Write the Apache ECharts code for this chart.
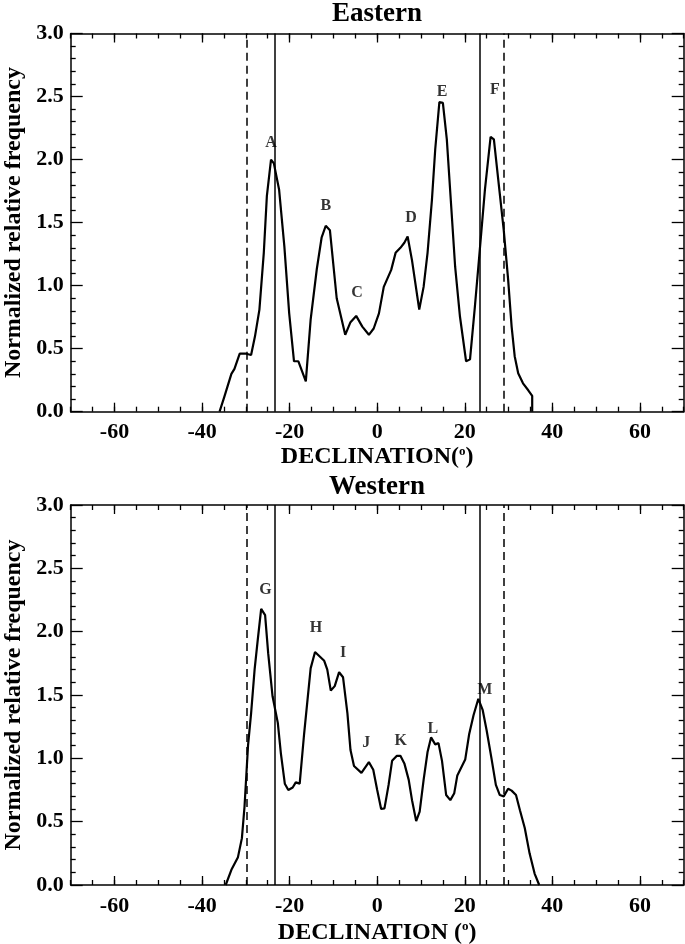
<!DOCTYPE html>
<html><head><meta charset="utf-8">
<script src="https://cdn.jsdelivr.net/npm/echarts@6/dist/echarts.min.js"></script>
<style>html,body{margin:0;padding:0;background:#fff}#c{width:685px;height:944px}</style>
</head><body><div id="c"></div>
<script>
// ---- data ----
const eastX = [-36.0,-34.9,-33.3,-32.6,-31.4,-29.9,-28.8,-27.9,-26.9,-25.9,-25.2,-24.25,-23.6,-22.4,-21.2,-20.1,-19.0,-18.0,-16.3,-15.2,-13.8,-12.7,-11.75,-10.8,-9.25,-7.3,-6.1,-4.8,-3.4,-1.9,-0.8,0.4,1.5,3.2,4.2,5.3,6.2,6.95,7.95,9.6,10.6,11.5,12.5,13.25,14.2,15.0,15.9,16.9,17.8,18.9,20.3,21.2,22.3,23.3,24.6,25.9,26.65,27.9,28.9,29.9,30.7,31.4,32.2,33.3,34.5,35.4,35.4];
const eastY = [0.00,0.12,0.30,0.34,0.46,0.46,0.45,0.60,0.81,1.26,1.71,2.00,1.97,1.76,1.31,0.78,0.40,0.40,0.24,0.73,1.13,1.38,1.475,1.44,0.90,0.61,0.71,0.76,0.675,0.61,0.66,0.78,0.99,1.125,1.26,1.30,1.34,1.39,1.20,0.81,0.99,1.26,1.68,2.08,2.455,2.45,2.16,1.63,1.15,0.755,0.40,0.415,0.83,1.23,1.76,2.18,2.16,1.76,1.44,1.05,0.675,0.44,0.305,0.225,0.17,0.125,0.00];
const westX = [-34.6,-33.3,-31.8,-30.9,-30.3,-29.5,-28.8,-28.0,-27.3,-26.5,-25.6,-24.9,-23.9,-22.7,-22.0,-21.1,-20.3,-19.3,-18.6,-17.7,-16.7,-15.2,-14.2,-12.1,-11.4,-10.6,-9.7,-8.7,-7.8,-6.8,-6.1,-5.3,-3.6,-1.9,-0.9,0.0,0.9,1.66,2.6,3.4,4.5,5.3,6.2,7.2,7.95,8.9,9.7,10.6,11.5,12.3,13.25,14.0,14.8,15.75,16.7,17.6,18.3,20.1,21.0,22.0,23.1,24.1,25.0,26.1,27.1,28.0,28.9,29.9,30.7,31.7,32.6,33.7,34.8,35.95,37.0];
const westY = [0.00,0.12,0.22,0.37,0.62,1.10,1.355,1.70,1.93,2.18,2.13,1.83,1.49,1.28,1.04,0.80,0.75,0.77,0.81,0.80,1.19,1.71,1.84,1.77,1.70,1.535,1.57,1.68,1.64,1.355,1.065,0.94,0.885,0.97,0.91,0.75,0.60,0.605,0.79,0.98,1.02,1.02,0.96,0.83,0.67,0.505,0.58,0.83,1.05,1.165,1.11,1.12,0.98,0.71,0.67,0.725,0.865,0.99,1.19,1.34,1.47,1.38,1.22,1.00,0.79,0.71,0.70,0.76,0.745,0.71,0.59,0.45,0.25,0.09,0.00];
const eastPeakNames = ['A','B','C','D','E','F'];
const eastPeakX = [-24.25,-11.75,-4.6,7.7,14.8,26.9];
const eastPeakY = [2.13,1.63,0.94,1.54,2.54,2.555];
const westPeakNames = ['G','H','I','J','K','L','M'];
const westPeakX = [-25.5,-14.0,-7.8,-2.5,5.4,12.7,24.6];
const westPeakY = [2.33,2.03,1.83,1.12,1.14,1.23,1.54];
const solidDecl = [-23.4, 23.4];
const dashedDecl = [-29.8, 28.8];
const xMajorTicks = [-60,-40,-20,0,20,40,60];
const panelTitles = ['Eastern','Western'];
const xNames = ['DECLINATION({s|o})','DECLINATION ({s|o})'];
const yName = 'Normalized relative frequency';

// ---- chart ----
const FF = '"Liberation Serif", "Times New Roman", serif';
const BLK = '#000';
const grids = [
  {left:70.7, top:33.5, width:613, height:378.2},
  {left:70.7, top:505, width:613, height:380}
];
const nameGaps = [33, 35];
const xAxes = [], yAxes = [], series = [];
grids.forEach((g, i) => {
  const lineSt = {color:BLK, width:1.5};
  const tickSt = {color:BLK, width:1.3};
  ['bottom','top'].forEach(pos => {
    xAxes.push({gridIndex:i, type:'value', position:pos, min:-70, max:70, interval:5,
      axisLine:{show:true, onZero:false, lineStyle:lineSt},
      axisTick:{show:true, inside:true, length:5, lineStyle:tickSt},
      axisLabel:{show:false}, splitLine:{show:false}});
    const major = {gridIndex:i, type:'value', position:pos, min:-70, max:70,
      axisLine:{show:false, onZero:false},
      axisTick:{show:true, inside:true, length:9, customValues:xMajorTicks, lineStyle:tickSt},
      splitLine:{show:false}};
    if (pos === 'bottom') {
      major.axisLabel = {show:true, customValues:xMajorTicks, margin:10, color:BLK,
        fontFamily:FF, fontWeight:'bold', fontSize:22};
      major.name = xNames[i];
      major.nameLocation = 'middle';
      major.nameGap = nameGaps[i];
      major.nameTextStyle = {color:BLK, fontFamily:FF, fontWeight:'bold', fontSize:24,
        rich:{s:{fontFamily:FF, fontWeight:'bold', fontSize:13, color:BLK, padding:[0,0,12,0]}}};
    } else {
      major.axisLabel = {show:false};
    }
    xAxes.push(major);
  });
  ['left','right'].forEach(pos => {
    yAxes.push({gridIndex:i, type:'value', position:pos, min:0, max:3, interval:0.5,
      axisLine:{show:true, onZero:false, lineStyle:lineSt},
      axisTick:{show:true, inside:true, length:12, lineStyle:tickSt},
      minorTick:{show:true, splitNumber:5, length:5, lineStyle:tickSt},
      splitLine:{show:false}, minorSplitLine:{show:false},
      axisLabel: pos === 'left' ? {show:true, margin:7, color:BLK, fontFamily:FF, fontWeight:'bold', fontSize:22,
        formatter: v => v.toFixed(1)} : {show:false},
      name: pos === 'left' ? yName : '',
      nameLocation:'middle', nameGap:37, nameRotate:90,
      nameTextStyle:{color:BLK, fontFamily:FF, fontWeight:'bold', fontSize:24}});
  });
  const xs = i === 0 ? eastX : westX, ys = i === 0 ? eastY : westY;
  const mlData = solidDecl.map(v => ({xAxis:v, lineStyle:{type:'solid', color:BLK, width:1.5}}))
    .concat(dashedDecl.map(v => ({xAxis:v, lineStyle:{type:[8,5], color:BLK, width:1.5}})));
  series.push({type:'line', xAxisIndex:i*4, yAxisIndex:i*2, showSymbol:false, symbol:'none',
    data: xs.map((x, k) => [x, ys[k]]),
    lineStyle:{color:BLK, width:2.2}, silent:true,
    markLine:{silent:true, symbol:['none','none'], label:{show:false}, data:mlData, animation:false}});
  const pn = i === 0 ? eastPeakNames : westPeakNames;
  const px = i === 0 ? eastPeakX : westPeakX;
  const py = i === 0 ? eastPeakY : westPeakY;
  series.push({type:'scatter', xAxisIndex:i*4, yAxisIndex:i*2, symbol:'circle', symbolSize:1,
    itemStyle:{color:'rgba(0,0,0,0)'}, silent:true,
    data: pn.map((n, k) => ({value:[px[k], py[k]], name:n})),
    label:{show:true, position:'inside', formatter: p => p.name, color:BLK,
      fontFamily:FF, fontWeight:'bold', fontSize:16}});
});
const chart = echarts.init(document.getElementById('c'), null, {renderer:'canvas'});
chart.setOption({
  animation:false,
  backgroundColor:'#fff',
  grid: grids.map(g => Object.assign({containLabel:false, outerBoundsMode:'none'}, g)),
  xAxis: xAxes, yAxis: yAxes, series: series,
  graphic: panelTitles.map((t, i) => ({type:'text', x:377, y: i === 0 ? 14 : 487,
    style:{text:t, textAlign:'center', textVerticalAlign:'middle', fill:BLK,
      font:'bold 27px ' + FF}}))
});
</script></body></html>
